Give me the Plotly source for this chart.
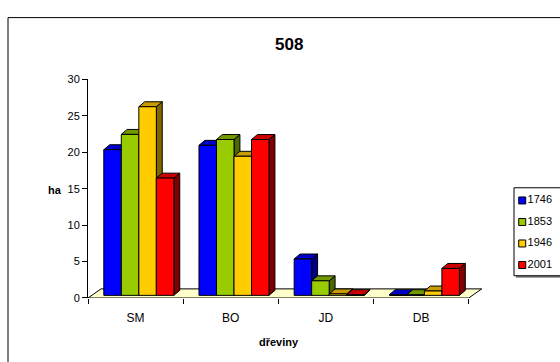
import plotly.graph_objects as go

# --- data -------------------------------------------------------------
categories = ["SM", "BO", "JD", "DB"]
years = ["1746", "1853", "1946", "2001"]
values_1746 = [20.0, 20.6, 5.0, 0.1]
values_1853 = [22.1, 21.4, 2.0, 0.1]
values_1946 = [25.9, 19.1, 0.2, 0.6]
values_2001 = [16.1, 21.4, 0.1, 3.7]
series_values = [values_1746, values_1853, values_1946, values_2001]
y_ticks = [0, 5, 10, 15, 20, 25, 30]

# --- styling ----------------------------------------------------------
front_colors = ["#0000FF", "#99CC00", "#FFCC00", "#FF0000"]
top_colors = ["#0000CC", "#739900", "#C89B00", "#CC0000"]
side_colors = ["#000080", "#4D6600", "#806600", "#800000"]
FONT = "Liberation Sans, Arial, sans-serif"

W, H = 560, 362
# plot area in pixels
PX0, PX1 = 88, 483
PY_TOP, PY_BOT = 76, 302

# pseudo-3D geometry (axis units)
bar_w = 0.184
group_start = -0.334
base = 0.36
dx, dy = 0.062, 0.68
floor_dx, floor_dy = 0.137, 1.25
x_range = [-0.5, 3.65]

fig = go.Figure()

# floor
fig.add_trace(go.Scatter(
    x=[-0.5, 3.5, 3.5 + floor_dx, -0.5 + floor_dx, -0.5],
    y=[0, 0, floor_dy, floor_dy, 0],
    fill="toself", fillcolor="#FFFFCC", mode="lines",
    line=dict(color="black", width=1), hoverinfo="skip", showlegend=False,
))

# bars: side, top and front faces, series by series
for s, vals in enumerate(series_values):
    side_x, side_y, top_x, top_y, front_x, front_y = [], [], [], [], [], []
    for c, v in enumerate(vals):
        x0 = c + group_start + s * bar_w
        x1 = x0 + bar_w
        y0, y1 = base, base + v
        side_x += [x1, x1 + dx, x1 + dx, x1, x1, None]
        side_y += [y0, y0 + dy, y1 + dy, y1, y0, None]
        top_x += [x0, x1, x1 + dx, x0 + dx, x0, None]
        top_y += [y1, y1, y1 + dy, y1 + dy, y1, None]
        front_x += [x0, x1, x1, x0, x0, None]
        front_y += [y0, y0, y1, y1, y0, None]
    for xs, ys, col in ((side_x, side_y, side_colors[s]),
                        (top_x, top_y, top_colors[s]),
                        (front_x, front_y, front_colors[s])):
        fig.add_trace(go.Scatter(
            x=xs, y=ys, fill="toself", fillcolor=col, mode="lines",
            line=dict(color="black", width=1), name=years[s],
            hoverinfo="skip", showlegend=False,
        ))

# legend drawn on its own small axes
fig.add_trace(go.Scatter(
    x=[0] * len(years), y=list(range(len(years)))[::-1],
    mode="markers+text", text=years, textposition="middle right",
    textfont=dict(family=FONT, size=11, color="black"),
    marker=dict(symbol="square", size=7, color=front_colors,
                line=dict(color="black", width=1)),
    xaxis="x2", yaxis="y2", hoverinfo="skip", showlegend=False,
))

def fx(px):
    return px / W

def fy(py):
    return 1 - py / H

fig.update_layout(
    width=W, height=H,
    margin=dict(l=0, r=0, t=0, b=0),
    paper_bgcolor="white", plot_bgcolor="rgba(0,0,0,0)",
    showlegend=False,
    font=dict(family=FONT, size=11, color="black"),
    xaxis=dict(
        domain=[fx(PX0), fx(PX1)], range=x_range,
        tickmode="array", tickvals=list(range(len(categories))),
        ticktext=categories, ticks="", showline=False, showgrid=False,
        zeroline=False, tickfont=dict(size=12), ticklabelstandoff=11,
        minor=dict(tickmode="array", tickvals=[-0.5, 0.5, 1.5, 2.5, 3.5],
                   ticks="outside", ticklen=5, tickcolor="black", tickwidth=1),
        fixedrange=True,
    ),
    yaxis=dict(
        domain=[fy(PY_BOT), fy(PY_TOP)], range=[0, 30],
        tickmode="array", tickvals=y_ticks,
        ticks="outside", ticklen=5, tickcolor="black", tickwidth=1,
        showline=True, linecolor="black", linewidth=1, showgrid=False,
        zeroline=False, tickfont=dict(size=11), fixedrange=True,
    ),
    xaxis2=dict(domain=[fx(518), fx(556)], range=[-0.5, 4], visible=False,
                fixedrange=True),
    yaxis2=dict(domain=[fy(279), fy(190)], range=[-0.5, 3.5], visible=False,
                fixedrange=True),
    shapes=[
        # outer chart frame
        dict(type="rect", xref="paper", yref="paper",
             x0=fx(8), x1=1.05, y0=-0.05, y1=fy(12),
             line=dict(color="black", width=1), fillcolor="rgba(0,0,0,0)"),
        # legend shadow and box
        dict(type="rect", xref="paper", yref="paper",
             x0=fx(516), x1=1.05, y0=fy(281), y1=fy(190),
             line=dict(width=0), fillcolor="#808080", layer="below"),
        dict(type="rect", xref="paper", yref="paper",
             x0=fx(514), x1=1.05, y0=fy(279), y1=fy(188),
             line=dict(color="black", width=1), fillcolor="white",
             layer="below"),
    ],
    annotations=[
        dict(text="<b>508</b>", x=fx(289), y=fy(40), xref="paper",
             yref="paper", showarrow=False, font=dict(size=17),
             xanchor="center", yanchor="middle"),
        dict(text="<b>ha</b>", x=fx(55), y=fy(190), xref="paper",
             yref="paper", showarrow=False, font=dict(size=11),
             xanchor="center", yanchor="middle"),
        dict(text="<b>dřeviny</b>", x=fx(279), y=fy(348), xref="paper",
             yref="paper", showarrow=False, font=dict(size=11),
             xanchor="center", yanchor="middle"),
    ],
)

fig.write_html("out.html")
